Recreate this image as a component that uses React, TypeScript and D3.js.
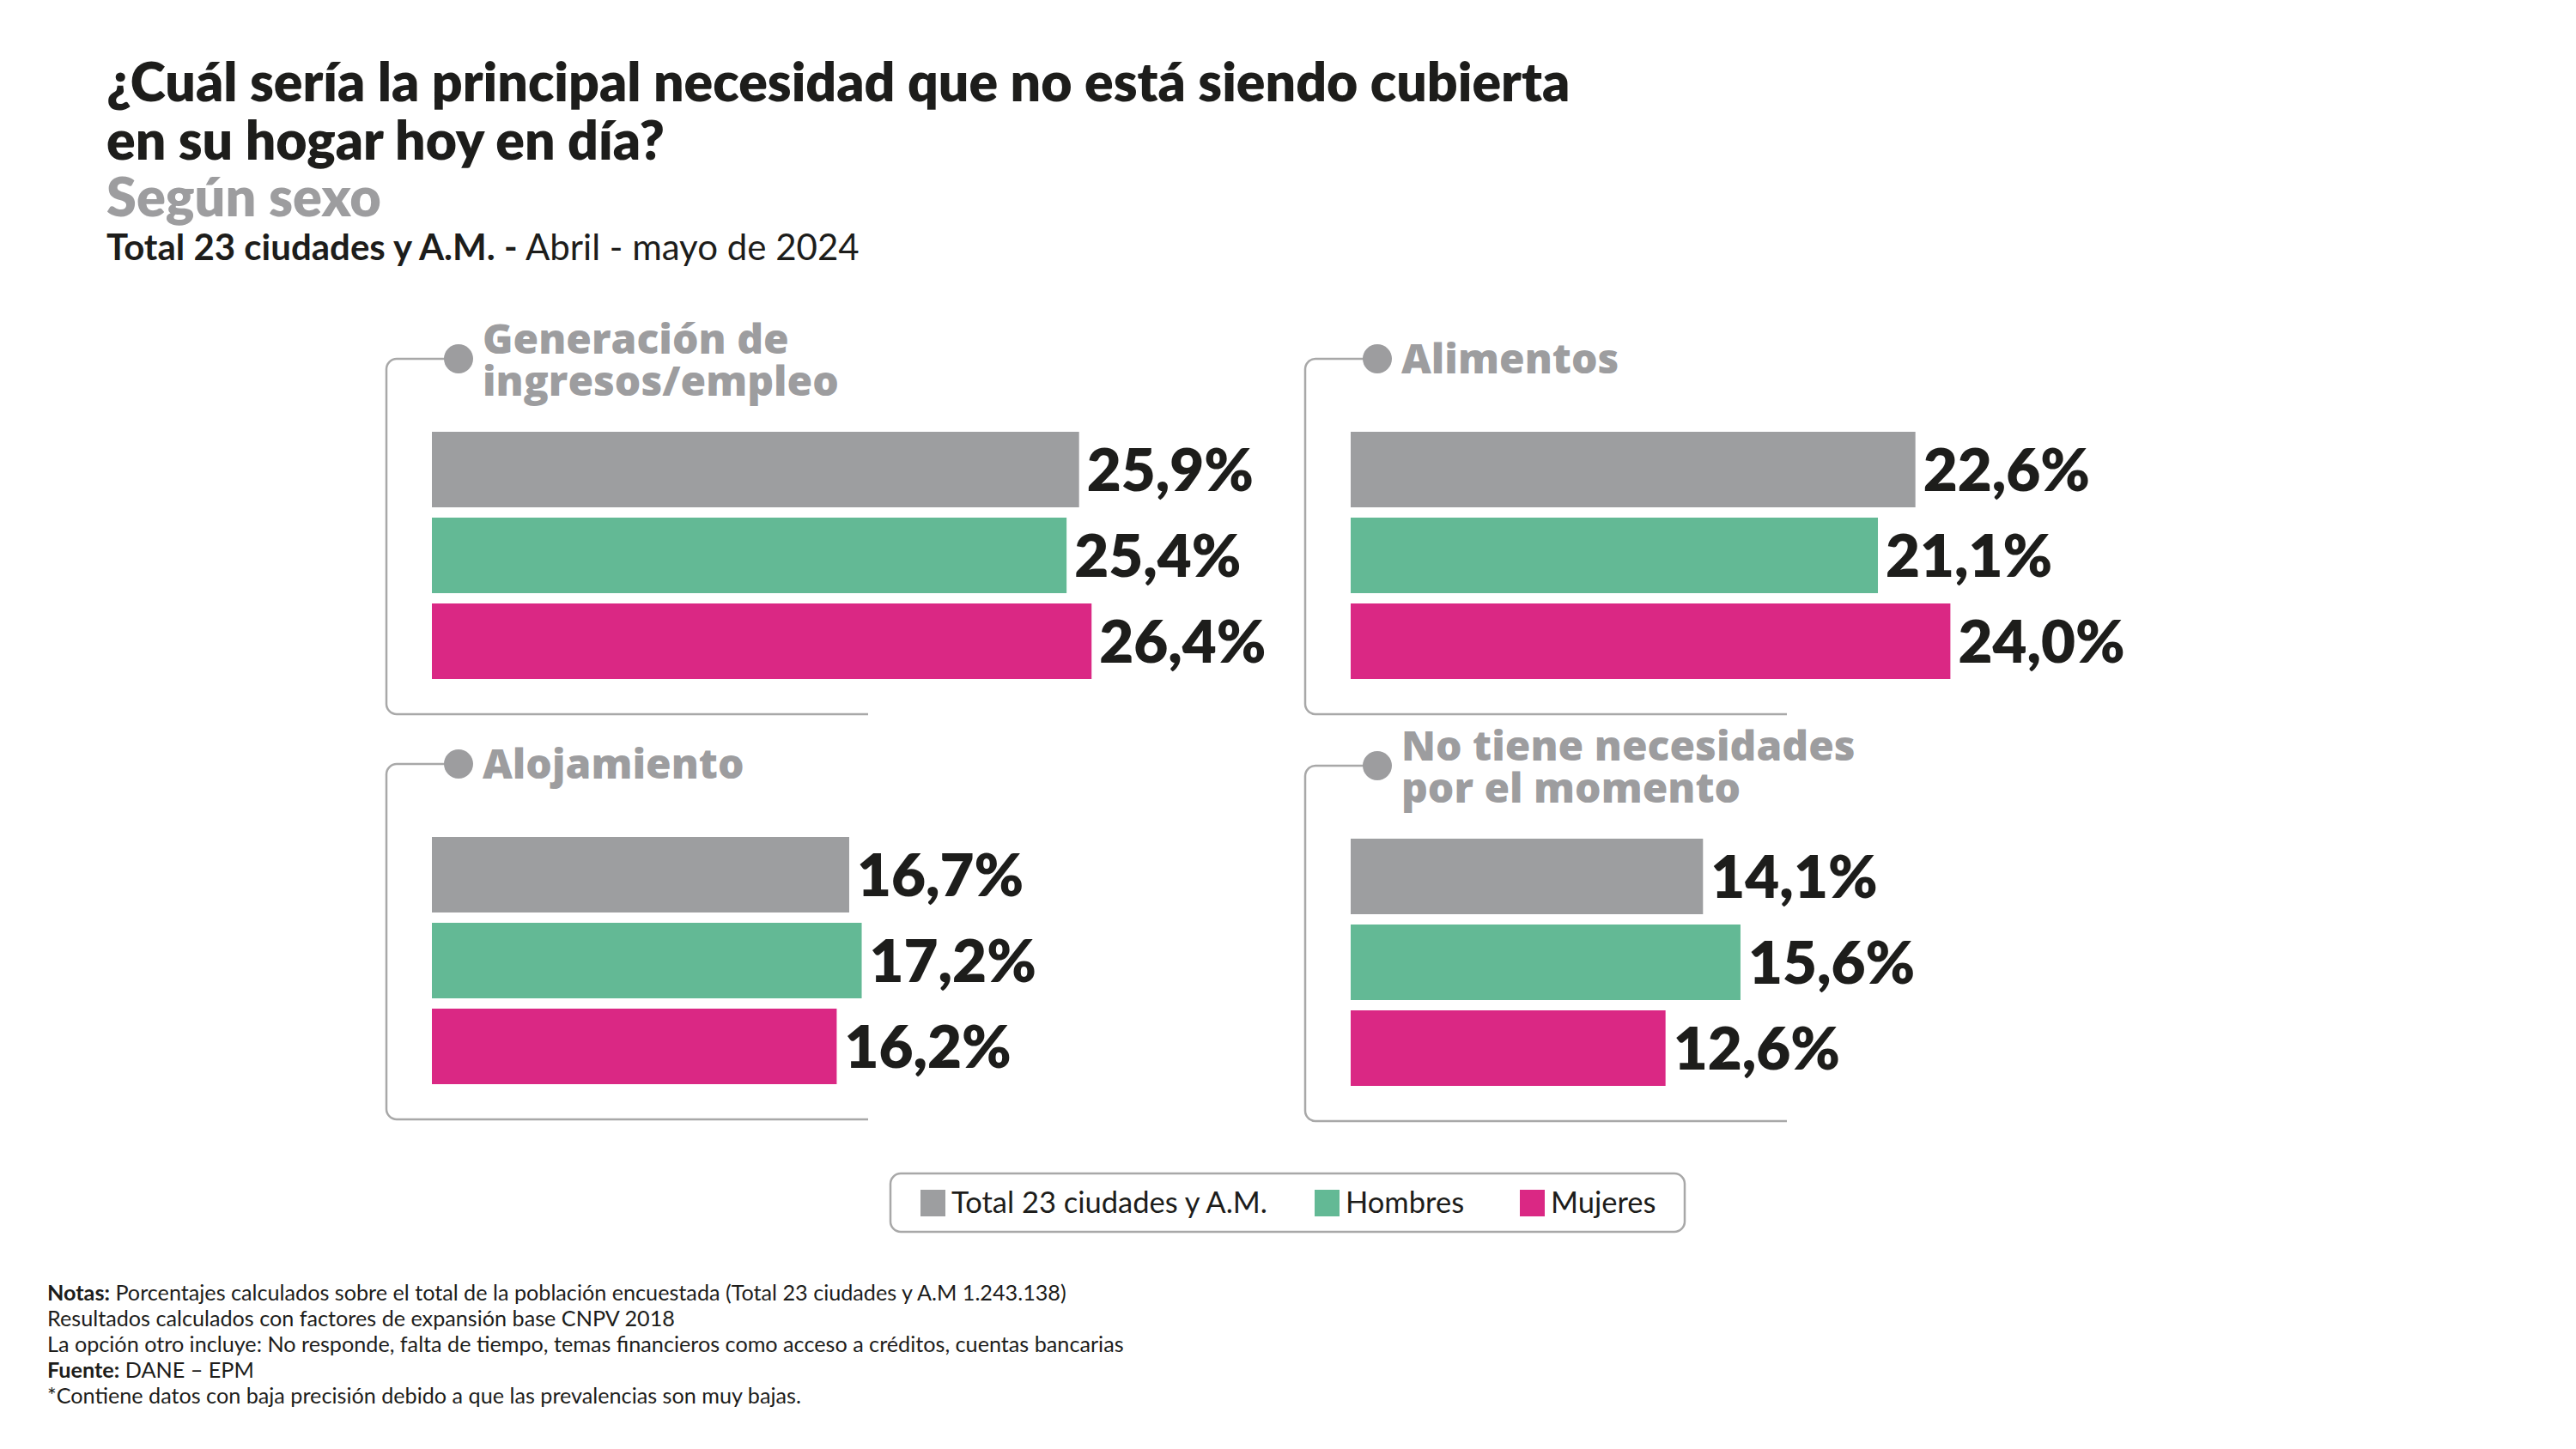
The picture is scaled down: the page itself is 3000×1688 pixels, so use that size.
import React from "react";
import * as d3 from "d3";

const seriesNames = ["Total 23 ciudades y A.M.", "Hombres", "Mujeres"];
const seriesColors = ["#9d9ea0", "#63b995", "#da2884"];

const categories = [
  ["Generación de", "ingresos/empleo"],
  ["Alimentos"],
  ["Alojamiento"],
  ["No tiene necesidades", "por el momento"],
];

const totalValues = [25.9, 22.6, 16.7, 14.1];
const hombresValues = [25.4, 21.1, 17.2, 15.6];
const mujeresValues = [26.4, 24.0, 16.2, 12.6];

const titleLines = [
  "¿Cuál sería la principal necesidad que no está siendo cubierta",
  "en su hogar hoy en día?",
];
const subtitle = "Según sexo";
const periodBold = "Total 23 ciudades y A.M. -";
const periodRegular = " Abril - mayo de 2024";

const notes = [
  { b: "Notas:", t: " Porcentajes calculados sobre el total de la población encuestada (Total 23 ciudades y A.M 1.243.138)" },
  { b: "", t: "Resultados calculados con factores de expansión base CNPV 2018" },
  { b: "", t: "La opción otro incluye: No responde, falta de tiempo, temas financieros como acceso a créditos, cuentas bancarias" },
  { b: "Fuente:", t: " DANE – EPM" },
  { b: "", t: "*Contiene datos con baja precisión debido a que las prevalencias son muy bajas." },
];

const W = 3000;
const H = 1688;
const FONT = "Lato, 'Open Sans', sans-serif";
const LABEL_FONT = "'Open Sans', Lato, sans-serif";
const DARK = "#1d1d1b";
const GRAY = "#9d9d9f";
const LINE = "#a8a8a8";

const panelOrigins = [
  [450, 418],
  [1520, 418],
  [450, 890],
  [1520, 892],
];

const fmt = (v: number) => v.toFixed(1).replace(".", ",") + "%";

function Panel({ idx }: { idx: number }) {
  const [fx, fy] = panelOrigins[idx];
  const values = [totalValues[idx], hombresValues[idx], mujeresValues[idx]];
  const x = d3.scaleLinear().domain([0, 30]).range([0, 873]);
  const y = d3
    .scaleBand<string>()
    .domain(seriesNames)
    .range([85, 373])
    .paddingInner(0.12)
    .paddingOuter(0);
  const barX = 53;
  const bottom = 414;
  const r = 12;
  const dotX = 84;
  const framePath = d3.path();
  framePath.moveTo(dotX, 0);
  framePath.lineTo(r, 0);
  framePath.arcTo(0, 0, 0, r, r);
  framePath.lineTo(0, bottom - r);
  framePath.arcTo(0, bottom, r, bottom, r);
  framePath.lineTo(561, bottom);
  const lines = categories[idx];
  const labelYs = lines.length === 1 ? [17] : [-6, 43];
  return (
    <g transform={`translate(${fx},${fy})`}>
      <path d={framePath.toString()} fill="none" stroke={LINE} strokeWidth={2.5} />
      <circle cx={dotX} cy={0} r={17} fill={GRAY} />
      {lines.map((l, i) => (
        <text
          key={i}
          x={112}
          y={labelYs[i]}
          fontFamily={LABEL_FONT}
          fontWeight={800}
          fontSize={48}
          fill={GRAY}
        >
          {l}
        </text>
      ))}
      {values.map((v, i) => {
        const yy = y(seriesNames[i])!;
        const bw = y.bandwidth();
        return (
          <g key={i}>
            <rect x={barX} y={yy} width={x(v)} height={bw} fill={seriesColors[i]} />
            <text
              x={barX + x(v) + 9}
              y={yy + bw / 2 + 25}
              fontFamily={FONT}
              fontWeight={800}
              fontSize={69}
              fill={DARK}
            >
              {fmt(v)}
            </text>
          </g>
        );
      })}
    </g>
  );
}

export default function App() {
  const legendX = [1072, 1531, 1770];
  return (
    <svg
      width={W}
      height={H}
      viewBox={`0 0 ${W} ${H}`}
      style={{ position: "absolute", left: 0, top: 0, display: "block", background: "#fff" }}
    >
      <rect x={0} y={0} width={W} height={H} fill="#fff" />
      {titleLines.map((t, i) => (
        <text key={i} x={124} y={118 + i * 68} fontFamily={FONT} fontWeight={800} fontSize={62.5} fill={DARK}>
          {t}
        </text>
      ))}
      <text x={124} y={252} fontFamily={FONT} fontWeight={800} fontSize={63} fill={GRAY}>
        {subtitle}
      </text>
      <text x={124} y={303} fontFamily={FONT} fontSize={42} fill={DARK}>
        <tspan fontWeight={700}>{periodBold}</tspan>
        <tspan fontWeight={400}>{periodRegular}</tspan>
      </text>

      {categories.map((_, i) => (
        <Panel key={i} idx={i} />
      ))}

      <rect x={1037} y={1367} width={925} height={68} rx={12} fill="none" stroke={LINE} strokeWidth={2.5} />
      {seriesNames.map((s, i) => (
        <g key={i}>
          <rect x={legendX[i]} y={1386} width={29} height={31} fill={seriesColors[i]} />
          <text x={legendX[i] + 36} y={1413} fontFamily={FONT} fontSize={34.5} fill={DARK}>
            {s}
          </text>
        </g>
      ))}

      {notes.map((n, i) => (
        <text key={i} x={55} y={1515 + i * 30} fontFamily={FONT} fontSize={25.2} fill={DARK}>
          {n.b && <tspan fontWeight={700}>{n.b}</tspan>}
          <tspan>{n.t}</tspan>
        </text>
      ))}
    </svg>
  );
}
